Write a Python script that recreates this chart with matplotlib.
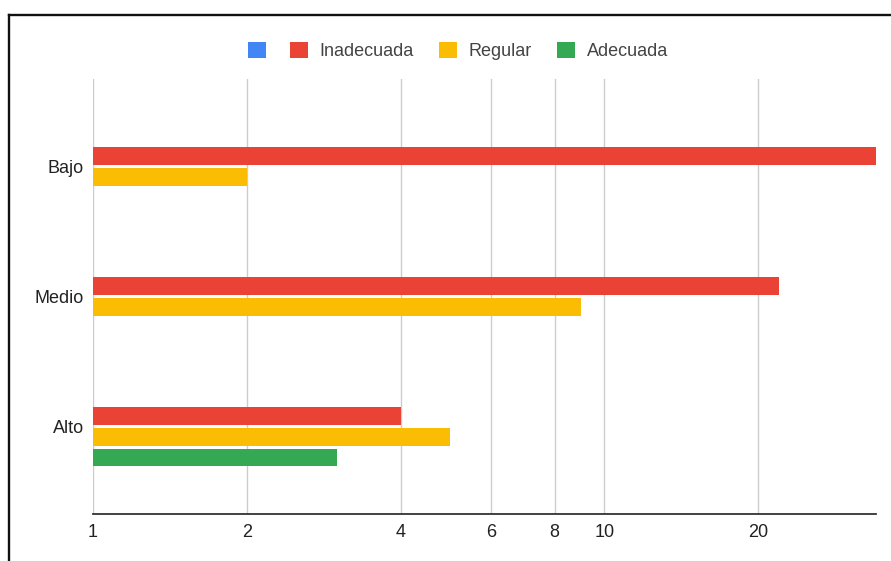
import numpy as np
import matplotlib.pyplot as plt
import matplotlib.patches as mpatches
from matplotlib.lines import Line2D
from matplotlib.ticker import FixedLocator, NullLocator

plt.rcParams['font.family'] = ['Liberation Sans', 'DejaVu Sans']

# Data
categories = ['Bajo', 'Medio', 'Alto']
series_names = ['', 'Inadecuada', 'Regular', 'Adecuada']
blank = [np.nan, np.nan, np.nan]
inadecuada = [34, 22, 4]
regular = [2, 9, 5]
adecuada = [np.nan, np.nan, 3]
x_ticks = [1, 2, 4, 6, 8, 10, 20]

colors = ['#4285F4', '#EA4335', '#FBBC04', '#34A853']
all_series = [blank, inadecuada, regular, adecuada]

fig = plt.figure(figsize=(8.91, 5.61), dpi=100)
ax = fig.add_axes([93 / 891, 1 - 514 / 561, (876 - 93) / 891, (514 - 79) / 561])

ypos = np.arange(len(categories))
slot = 0.159
bar_h = 0.138
for i, (vals, col) in enumerate(zip(all_series, colors)):
    vals = np.asarray(vals, dtype=float)
    ok = ~np.isnan(vals)
    off = (i - 1.5) * slot
    # log axis has its baseline at 1
    ax.barh(ypos[ok] + off, vals[ok] - 1, left=1, height=bar_h,
            color=col, edgecolor='none', zorder=3)

ax.set_xscale('log')
ax.set_xlim(1, 34)
ax.set_ylim(2.673, -0.673)

ax.xaxis.set_major_locator(FixedLocator(x_ticks))
ax.xaxis.set_minor_locator(NullLocator())
ax.set_xticklabels([str(t) for t in x_ticks])
ax.set_yticks(ypos)
ax.set_yticklabels(categories)
ax.tick_params(axis='both', length=0, labelsize=13, colors='#222222')
ax.tick_params(axis='x', pad=7)
ax.tick_params(axis='y', pad=6.5)

ax.grid(axis='x', color='#cccccc', linewidth=1, zorder=0)
ax.set_axisbelow(True)
for s in ['top', 'right', 'left']:
    ax.spines[s].set_visible(False)
ax.spines['bottom'].set_color('#333333')
ax.spines['bottom'].set_linewidth(1.3)
ax.spines['bottom'].set_zorder(4)

handles = [mpatches.Patch(facecolor=c, edgecolor='none') for c in colors]
leg_y = 1 - 51 / 561
leg_kw = dict(frameon=False, fontsize=13, labelcolor='#444444',
              handlelength=0.97, handleheight=0.97, borderpad=0,
              borderaxespad=0)
# the unnamed series sits alone, with no text gap after its key
blue_leg = fig.legend(handles[:1], series_names[:1], loc='center right',
                      bbox_to_anchor=(266 / 891, leg_y), handletextpad=0,
                      **leg_kw)
fig.legend(handles[1:], series_names[1:], loc='center left', ncol=3,
           bbox_to_anchor=(290 / 891, leg_y), handletextpad=0.67,
           columnspacing=1.4, **leg_kw)

# outer frame
x0 = 9 / 891
ytop = 1 - 15 / 561
fig.add_artist(Line2D([x0, x0], [0, ytop], color='#111111', linewidth=1.7))
fig.add_artist(Line2D([x0, 1], [ytop, ytop], color='#111111', linewidth=1.7))

fig.savefig('out.png', dpi=100)
